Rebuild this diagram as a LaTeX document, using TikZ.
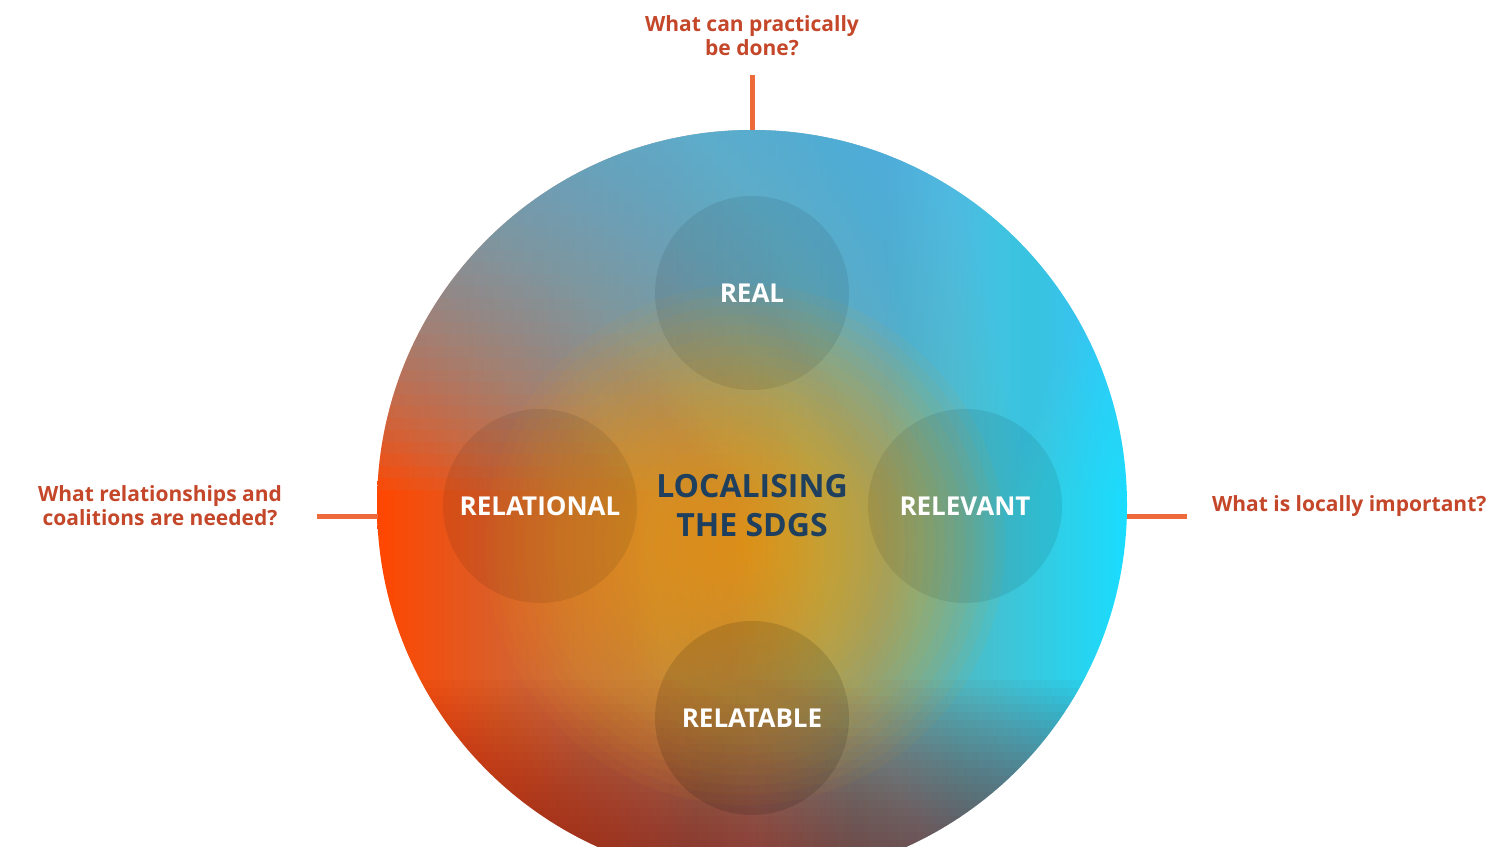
\documentclass[tikz,border=0pt]{standalone}
\usepackage{fontspec}
\setmainfont{Open Sans}

\definecolor{qcol}{HTML}{C4472A}
\definecolor{linecol}{HTML}{EE6A3A}
\definecolor{navy}{HTML}{1F3F5E}
\definecolor{skyblue}{HTML}{4FC3F7}
\definecolor{glow}{HTML}{FFA000}

\begin{document}
\begin{tikzpicture}[
  x=0.5pt,y=-0.5pt,
  font=\bfseries,
  question/.style={text=qcol,font=\fontsize{10.5}{12}\selectfont\bfseries,align=center},
  petal/.style={circle,minimum size=97pt,inner sep=0pt,text=white,
    fill=black,fill opacity=0.08,text opacity=1,
    font=\fontsize{13}{15}\selectfont\bfseries},
  tick/.style={linecol,line width=2.5pt}]

  \useasboundingbox (0,0) rectangle (1504,846);

  % Gradient disc
  \begin{scope}
    \clip (752,505) circle (375);
    \shade[left color=orange!55!red, right color=cyan!85!blue!90!white]
      (377,130) rectangle (1127,880);
    \foreach \i in {1,...,30}
      \fill[skyblue,opacity=0.045] (377,130) rectangle (1127,130+\i*12);
    \foreach \i in {1,...,25}
      \fill[red!55!black,opacity=0.03] (377,880-\i*8) rectangle (1127,880);
    \foreach \r in {10,20,...,260}
      \fill[glow,opacity=0.05] (745,545) circle (\r);
  \end{scope}

  % Petals
  \node[petal] (real) at (752,293) {REAL};
  \node[petal] (relational) at (540,506) {RELATIONAL};
  \node[petal] (relevant) at (965,506) {RELEVANT};
  \node[petal,fill opacity=0.12] (relatable) at (752,718) {RELATABLE};

  \node[text=navy,align=center,font=\fontsize{16}{19.5}\selectfont\bfseries] (centre) at (752,506)
    {LOCALISING\\THE SDGS};

  % Questions and ticks
  \node[question] (qtop) at (752,36) {What can practically\\be done?};
  \node[question] (qleft) at (160,506) {What relationships and\\coalitions are needed?};
  \node[question,anchor=west] (qright) at (1205,506) {What is locally important?};

  \coordinate (ttop) at (752,75);
  \coordinate (tleft) at (317,516);
  \coordinate (tright) at (1187,516);
  \draw[tick] (ttop) -- (752,130);
  \draw[tick] (tleft) -- (378,516);
  \draw[tick] (1127,516) -- (tright);
\end{tikzpicture}
\end{document}
